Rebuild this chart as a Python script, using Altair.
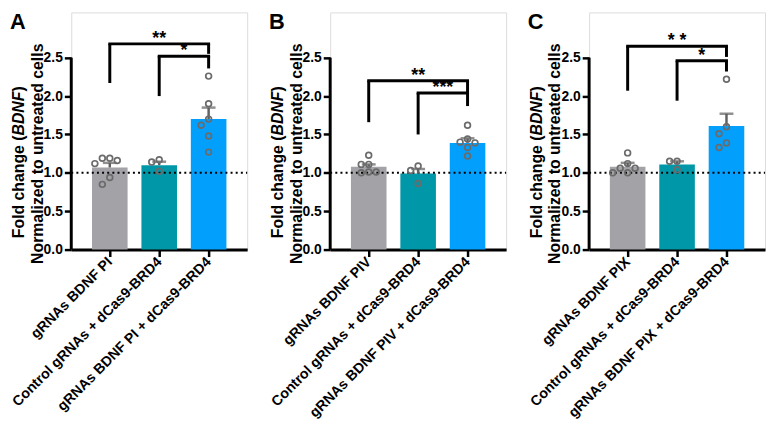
import json
import altair as alt
import pandas as pd

# ---------------- data ----------------
labels_A = ["gRNAs BDNF PI", "Control gRNAs + dCas9-BRD4", "gRNAs BDNF PI + dCas9-BRD4"]
labels_B = ["gRNAs BDNF PIV", "Control gRNAs + dCas9-BRD4", "gRNAs BDNF PIV + dCas9-BRD4"]
labels_C = ["gRNAs BDNF PIX", "Control gRNAs + dCas9-BRD4", "gRNAs BDNF PIX + dCas9-BRD4"]

mean_A = [1.07, 1.10, 1.70]
errtop_A = [1.13, 1.145, 1.85]
pts_A = [[1.19, 1.19, 1.16, 1.12, 0.94, 0.85],
         [1.17, 1.14, 1.02],
         [2.26, 1.90, 1.70, 1.62, 1.48, 1.27]]

mean_B = [1.08, 0.99, 1.39]
errtop_B = [1.11, 1.05, 1.45]
pts_B = [[1.23, 1.11, 1.11, 1.01, 1.00, 1.01],
         [1.09, 1.03, 0.86],
         [1.62, 1.44, 1.40, 1.39, 1.33, 1.22]]

mean_C = [1.08, 1.11, 1.61]
errtop_C = [1.13, 1.15, 1.77]
pts_C = [[1.26, 1.12, 1.06, 1.06, 1.00, 1.00],
         [1.15, 1.15, 1.04],
         [2.22, 1.60, 1.51, 1.39, 1.33]]

# significance brackets: from group, to group, top, left-leg bottom, right-leg bottom, label
brk_from_A = [0, 1]; brk_to_A = [2, 2]
brk_top_A = [2.68, 2.52]; brk_lbot_A = [2.17, 2.00]; brk_rbot_A = [2.55, 2.36]
brk_lab_A = ["**", "*"]

brk_from_B = [0, 1]; brk_to_B = [2, 2]
brk_top_B = [2.20, 2.04]; brk_lbot_B = [1.66, 1.50]; brk_rbot_B = [2.05, 1.87]
brk_lab_B = ["**", "***"]

brk_from_C = [0, 1]; brk_to_C = [2, 2]
brk_top_C = [2.65, 2.46]; brk_lbot_C = [2.07, 1.94]; brk_rbot_C = [2.51, 2.32]
brk_lab_C = ["* *", "*"]

y_ticks = [0.0, 0.5, 1.0, 1.5, 2.0, 2.5]
ref_line = 1.0

# ---------------- style ----------------
COLORS = ["#a2a2a7", "#0098a8", "#039ffd"]
FONT = "Liberation Sans"
W = 178
H = 240
YMAX = 3.09
XDOM = [-0.68, 2.68]
STEP_PX = W / (XDOM[1] - XDOM[0])
UNIT_PX = H / YMAX


def dodge(vals, diam=7.0, sep=8.0):
    placed, out = [], []
    for v in vals:
        y = v * UNIT_PX
        x = 0.0
        for k in [0, -1, 1, -2, 2, -3, 3]:
            x = k * sep
            if all((x - px) ** 2 + (y - py) ** 2 >= diam ** 2 for px, py in placed):
                break
        placed.append((x, y))
        out.append(x / STEP_PX)
    return out


def panel(letter, labels, means, errtops, pts, bf, bt, btop, blb, brb, blab):
    idx = [0, 1, 2]
    label_expr = json.dumps(labels) + "[datum.value]"
    xenc = alt.X("i:Q",
                 scale=alt.Scale(domain=XDOM, nice=False, zero=False),
                 axis=alt.Axis(values=idx, labelExpr=label_expr, title=None, grid=False,
                               labelAngle=315, labelAlign="right", labelBaseline="middle",
                               labelFontSize=14.4, labelFontWeight="bold", labelColor="black",
                               labelFont=FONT, labelPadding=3, labelLimit=400,
                               labelOverlap=False, labelFlush=False,
                               domainColor="black", domainWidth=3,
                               tickColor="black", tickWidth=2.5, tickSize=7))
    yenc = alt.Y("v:Q",
                 scale=alt.Scale(domain=[0, YMAX], nice=False, zero=True),
                 axis=alt.Axis(values=y_ticks, format=".1f", title=None, grid=False, domain=False,
                               labelFontSize=14, labelFontWeight="bold", labelColor="black",
                               labelFont=FONT, labelPadding=2, labelOverlap=False,
                               tickColor="black", tickWidth=2.5, tickSize=7))

    bars_df = pd.DataFrame({"i": idx, "v": means, "e": errtops, "c": COLORS})
    bars = alt.Chart(bars_df).mark_bar(size=36).encode(
        x=xenc, y=yenc, color=alt.Color("c:N", scale=None))

    dotted = alt.Chart(pd.DataFrame({"a": [0]})).mark_rule(
        color="black", strokeWidth=2, strokeDash=[2, 3.2]).encode(
        y=alt.datum(ref_line), x=alt.value(0), x2=alt.value(W))

    yline = alt.Chart(pd.DataFrame({"a": [0]})).mark_rule(
        color="black", strokeWidth=3).encode(
        x=alt.value(0), y=alt.datum(0), y2=alt.datum(y_ticks[-1]))

    errs = alt.Chart(bars_df).mark_rule(color="#606060", strokeWidth=2.5).encode(
        x=xenc, y=yenc, y2=alt.Y2("e:Q"))
    caps = alt.Chart(bars_df).mark_tick(orient="horizontal", size=14, thickness=2.5,
                                        color="#606060").encode(
        x=xenc, y=alt.Y("e:Q", scale=alt.Scale(domain=[0, YMAX], nice=False)))

    prow = []
    for g, vals in zip(idx, pts):
        offs = dodge(vals)
        for v, o in zip(vals, offs):
            prow.append({"i": g + o, "v": v})
    points = alt.Chart(pd.DataFrame(prow)).mark_point(
        shape="circle", filled=False, size=34, strokeWidth=1.7, color="#6b6b6b",
        opacity=1).encode(x=xenc, y=yenc)

    hdf = pd.DataFrame({"i": bf, "i2": bt, "v": btop})
    horiz = alt.Chart(hdf).mark_rule(color="black", strokeWidth=3, strokeCap="square").encode(
        x=xenc, x2=alt.X2("i2:Q"), y=yenc)
    legs_df = pd.DataFrame({"i": list(bf) + list(bt),
                            "v": list(blb) + list(brb),
                            "t": list(btop) + list(btop)})
    legs = alt.Chart(legs_df).mark_rule(color="black", strokeWidth=3).encode(
        x=xenc, y=yenc, y2=alt.Y2("t:Q"))
    tdf = pd.DataFrame({"i": [(a + b) / 2 for a, b in zip(bf, bt)], "v": btop, "s": blab})
    stars = alt.Chart(tdf).mark_text(font=FONT, fontSize=18, fontWeight="bold",
                                     baseline="alphabetic", dy=0, color="black").encode(
        x=xenc, y=yenc, text="s:N")

    one = pd.DataFrame({"a": [0]})
    letter_t = alt.Chart(one).mark_text(font=FONT, fontSize=22, fontWeight="bold",
                                        align="left", baseline="alphabetic", color="black").encode(
        x=alt.value(-62), y=alt.value(17), text=alt.value(letter))
    t2 = alt.Chart(one).mark_text(font=FONT, fontSize=16, fontWeight="bold", angle=270,
                                  align="center", baseline="alphabetic", color="black").encode(
        x=alt.value(-29), y=alt.value(143), text=alt.value("Normalized to untreated cells"))
    join = 124.5
    t1a = alt.Chart(one).mark_text(font=FONT, fontSize=16, fontWeight="bold", angle=270,
                                   align="right", baseline="alphabetic", color="black").encode(
        x=alt.value(-48), y=alt.value(join), text=alt.value("Fold change ("))
    t1b = alt.Chart(one).mark_text(font=FONT, fontSize=16, fontWeight="bold", fontStyle="italic",
                                   angle=270, align="left", baseline="alphabetic",
                                   color="black").encode(
        x=alt.value(-48), y=alt.value(join), text=alt.value("BDNF"))
    t1c = alt.Chart(one).mark_text(font=FONT, fontSize=16, fontWeight="bold", angle=270,
                                   align="left", baseline="alphabetic", color="black").encode(
        x=alt.value(-48), y=alt.value(join - 44.4), text=alt.value(")"))

    return alt.layer(bars, dotted, errs, caps, points, yline, horiz, legs, stars,
                     letter_t, t1a, t1b, t1c, t2).properties(width=W, height=H)


pA = panel("A", labels_A, mean_A, errtop_A, pts_A, brk_from_A, brk_to_A,
           brk_top_A, brk_lbot_A, brk_rbot_A, brk_lab_A)
pB = panel("B", labels_B, mean_B, errtop_B, pts_B, brk_from_B, brk_to_B,
           brk_top_B, brk_lbot_B, brk_rbot_B, brk_lab_B)
pC = panel("C", labels_C, mean_C, errtop_C, pts_C, brk_from_C, brk_to_C,
           brk_top_C, brk_lbot_C, brk_rbot_C, brk_lab_C)

chart = alt.hconcat(pA, pB, pC, spacing=18).properties(padding=0).configure_view(
    stroke=None).configure(font=FONT, background="white")

chart.save("out.html", embed_options={"renderer": "svg", "actions": False})
